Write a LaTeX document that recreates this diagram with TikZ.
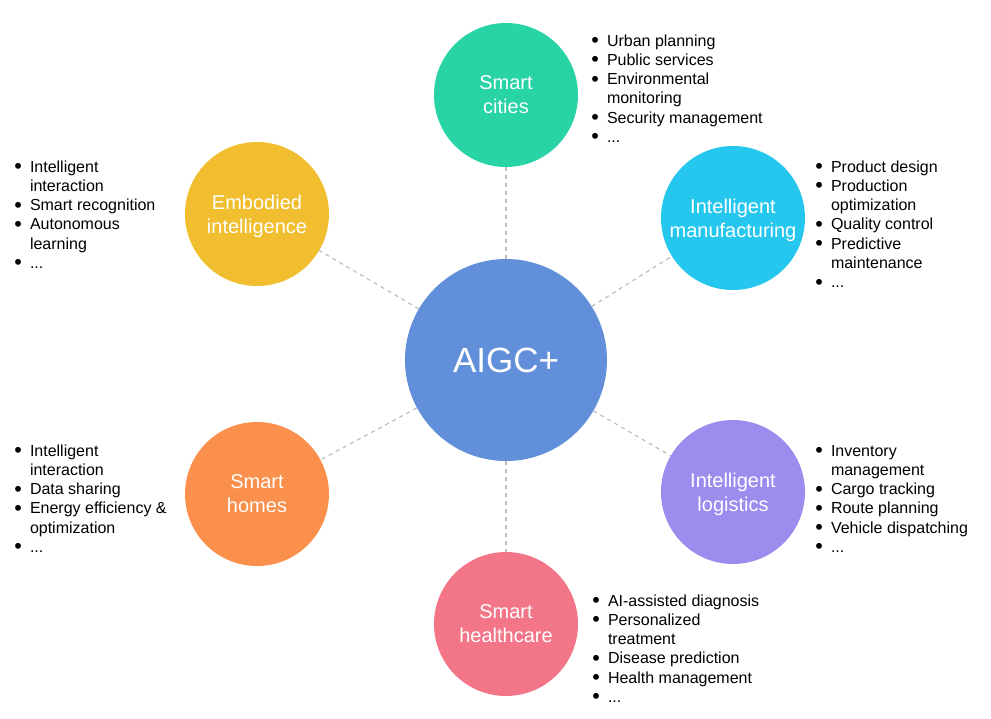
\documentclass[tikz,border=0pt]{standalone}
\usepackage{fontspec}
\setmainfont{Liberation Sans}
\usepackage{array}
\definecolor{cteal}{HTML}{28D3A5}
\definecolor{ccyan}{HTML}{26C7EE}
\definecolor{cyellow}{HTML}{F0BE2E}
\definecolor{cblue}{HTML}{628FDA}
\definecolor{corange}{HTML}{FB8F4C}
\definecolor{cpurple}{HTML}{9C8CEE}
\definecolor{cpink}{HTML}{F37688}
\definecolor{clink}{HTML}{BDBDBD}
\newcommand{\blist}[1]{\fontsize{16}{19.3}\selectfont\renewcommand{\arraystretch}{1}\begin{tabular}[t]{@{}p{15pt}@{}l@{}}#1\end{tabular}}
\newcommand{\bi}{\hspace{-0.6pt}\smash{\raisebox{-0.09em}{\scalebox{1.35}{\textbullet}}}}
\begin{document}
\begin{tikzpicture}[x=1pt,y=-1pt,
  topic/.style={circle,minimum size=144pt,inner sep=0pt,text=white,align=center,font=\fontsize{20}{24}\selectfont,text depth=-3pt},
  hub/.style={circle,fill=cblue,minimum size=202pt,inner sep=0pt,text=white,font=\fontsize{35}{40}\selectfont},
  link/.style={draw=clink,dash pattern=on 4pt off 4pt,line width=1.2pt},
  listbox/.style={anchor=base west,inner sep=0pt,outer sep=0pt}]
\useasboundingbox (0,0) rectangle (991,718);
\node[hub] (hub) at (506,360) {AIGC+};
\node[topic,fill=cteal] (cities) at (506,95) {Smart\\cities};
\node[topic,fill=ccyan] (manu) at (733,218) {Intelligent\\manufacturing};
\node[topic,fill=cpurple] (logi) at (733,492) {Intelligent\\logistics};
\node[topic,fill=cpink] (health) at (506,624) {Smart\\healthcare};
\node[topic,fill=corange] (homes) at (257,494) {Smart\\homes};
\node[topic,fill=cyellow] (embod) at (257,214) {Embodied\\intelligence};
\foreach \t in {cities,manu,logi,health,homes,embod}
  \draw[link] (hub) -- (\t);
\node[listbox] (lcities) at (592,46) {\blist{\bi & Urban planning\\ \bi & Public services\\ \bi & Environmental\\ & monitoring\\ \bi & Security management\\ \bi & ...}};
\node[listbox] (lmanu) at (816,172) {\blist{\bi & Product design\\ \bi & Production\\ & optimization\\ \bi & Quality control\\ \bi & Predictive\\ & maintenance\\ \bi & ...}};
\node[listbox] (lembod) at (15,172) {\blist{\bi & Intelligent\\ & interaction\\ \bi & Smart recognition\\ \bi & Autonomous\\ & learning\\ \bi & ...}};
\node[listbox] (lhomes) at (15,456) {\blist{\bi & Intelligent\\ & interaction\\ \bi & Data sharing\\ \bi & Energy efficiency \&\\ & optimization\\ \bi & ...}};
\node[listbox] (llogi) at (816,456) {\blist{\bi & Inventory\\ & management\\ \bi & Cargo tracking\\ \bi & Route planning\\ \bi & Vehicle dispatching\\ \bi & ...}};
\node[listbox] (lhealth) at (593,606) {\blist{\bi & AI-assisted diagnosis\\ \bi & Personalized\\ & treatment\\ \bi & Disease prediction\\ \bi & Health management\\ \bi & ...}};
\end{tikzpicture}
\end{document}
